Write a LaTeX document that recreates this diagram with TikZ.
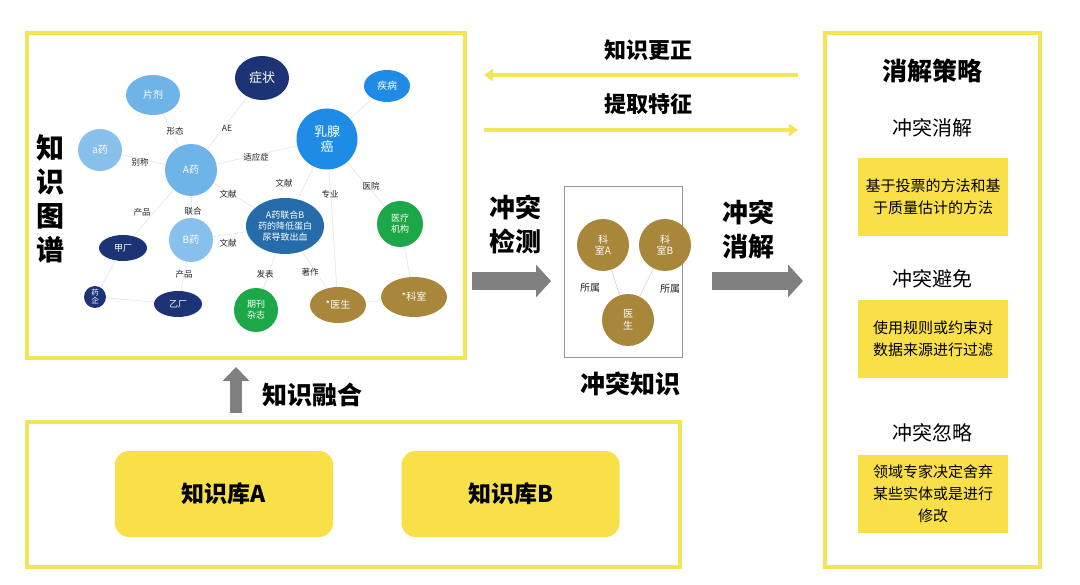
\documentclass[tikz,border=0pt]{standalone}
\usepackage{fontspec}
\setmainfont{Noto Sans CJK SC}
\usetikzlibrary{arrows.meta,shapes.geometric}
\definecolor{ybord}{RGB}{245,228,85}
\definecolor{yfill}{RGB}{249,223,72}
\definecolor{lblue}{RGB}{110,180,232}
\definecolor{llblue}{RGB}{135,192,235}
\definecolor{navy}{RGB}{28,52,118}
\definecolor{bblue}{RGB}{30,140,230}
\definecolor{steel}{RGB}{38,108,170}
\definecolor{ggreen}{RGB}{28,168,72}
\definecolor{gold}{RGB}{168,135,58}
\definecolor{garrow}{RGB}{128,128,128}
\definecolor{boxgray}{RGB}{150,150,150}
\begin{document}
\begin{tikzpicture}[x=1pt,y=-1pt,
  panel/.style={draw=ybord,line width=4pt},
  kn/.style={ellipse,inner sep=0pt,text=white,align=center,font=\fontsize{10}{11.5}\selectfont},
  el/.style={inner sep=0pt,text=black!85,font=\fontsize{8.5}{9}\selectfont},
  kedge/.style={draw=black!9,line width=0.7pt},
  big/.style={inner sep=0pt,align=center,font=\fontsize{25}{34}\bfseries\selectfont},
  mid/.style={inner sep=0pt,align=center,font=\fontsize{20}{24}\selectfont},
  ybox/.style={fill=yfill,minimum width=150pt,minimum height=78pt,align=center,inner sep=0pt,font=\fontsize{15}{22}\selectfont},
  kbox/.style={fill=yfill,rounded corners=14pt,minimum width=218pt,minimum height=86pt,inner sep=0pt,font=\fontsize{23}{26}\bfseries\selectfont},
  yarrow/.style={draw=ybord,line width=4pt,-{Triangle[length=9pt,width=12pt]}},
  garr/.style={draw=garrow,line width=18pt,-{Triangle[length=15pt,width=32pt]}},
]
\useasboundingbox (0,0) rectangle (1080,585);
\fill[white] (0,0) rectangle (1080,585);

% ---------- panels ----------
\node[panel,minimum width=438pt,minimum height=325pt,inner sep=0pt] (kg) at (246,195.5) {};
\node[panel,minimum width=653pt,minimum height=145pt,inner sep=0pt] (kbpanel) at (353.5,494.5) {};
\node[panel,minimum width=215pt,minimum height=534pt,inner sep=0pt] (strat) at (932.5,300) {};

% ---------- knowledge graph ----------
\node[big,font=\fontsize{28}{34}\bfseries\selectfont] (kgtitle) at (50,199) {知\\识\\图\\谱};

\node[kn,fill=lblue,minimum width=54pt,minimum height=40pt] (pj) at (153,95) {片剂};
\node[kn,fill=navy,minimum width=54pt,minimum height=44pt,font=\fontsize{13}{14}\selectfont] (zz) at (262,78) {症状};
\node[kn,fill=bblue,minimum width=46pt,minimum height=32pt] (jb) at (387,86) {疾病};
\node[kn,fill=llblue,minimum width=44pt,minimum height=42pt] (ay) at (100,150) {a药};
\node[kn,fill=lblue,minimum width=52pt,minimum height=52pt] (Ay) at (191,170) {A药};
\node[kn,fill=bblue,minimum width=61pt,minimum height=61pt,font=\fontsize{13}{15}\selectfont] (rxa) at (327,139) {乳腺\\癌};
\node[kn,fill=llblue,minimum width=44pt,minimum height=44pt] (By) at (191,240) {B药};
\node[kn,fill=steel,minimum width=78pt,minimum height=56pt,font=\fontsize{9}{11}\selectfont] (combo) at (285,226) {A药联合B\\药的降低蛋白\\尿导致出血};
\node[kn,fill=ggreen,minimum width=46pt,minimum height=46pt,font=\fontsize{9}{11}\selectfont] (yl) at (400,224) {医疗\\机构};
\node[kn,fill=navy,minimum width=48pt,minimum height=26pt,font=\fontsize{9}{10}\selectfont] (jc) at (123,248) {甲厂};
\node[kn,fill=navy,minimum width=22pt,minimum height=22pt,font=\fontsize{7.5}{8}\selectfont] (yq) at (95,297) {药\\企};
\node[kn,fill=navy,minimum width=48pt,minimum height=26pt,font=\fontsize{9}{10}\selectfont] (yc) at (178,304) {乙厂};
\node[kn,fill=ggreen,minimum width=44pt,minimum height=44pt,font=\fontsize{9}{11}\selectfont] (qk) at (256,310) {期刊\\杂志};
\node[kn,fill=gold,minimum width=56pt,minimum height=36pt] (ys) at (338,305) {*医生};
\node[kn,fill=gold,minimum width=66pt,minimum height=40pt] (ks) at (414,297) {*科室};

\draw[kedge] (pj) -- (Ay);
\draw[kedge] (zz) -- (Ay);
\draw[kedge] (ay) -- (Ay);
\draw[kedge] (Ay) -- (rxa);
\draw[kedge] (Ay) -- (combo);
\draw[kedge] (rxa) -- (jb);
\draw[kedge] (rxa) -- (combo);
\draw[kedge] (rxa) -- (ys);
\draw[kedge] (rxa) -- (yl);
\draw[kedge] (Ay) -- (By);
\draw[kedge] (By) -- (combo);
\draw[kedge] (jc) -- (Ay);
\draw[kedge] (yc) -- (By);
\draw[kedge] (yq) -- (jc);
\draw[kedge] (yq) -- (yc);
\draw[kedge] (combo) -- (qk);
\draw[kedge] (combo) -- (ys);
\draw[kedge] (ys) -- (ks);
\draw[kedge] (yl) -- (ks);

\node[el] (l1) at (175,131) {形态};
\node[el] (l2) at (227,128) {AE};
\node[el] (l3) at (140,162) {别称};
\node[el] (l4) at (256,157) {适应症};
\node[el] (l5) at (228,194) {文献};
\node[el] (l6) at (284,183) {文献};
\node[el] (l7) at (330,194) {专业};
\node[el] (l8) at (371,186) {医院};
\node[el] (l9) at (142,212) {产品};
\node[el] (l10) at (193,211) {联合};
\node[el] (l11) at (228,243) {文献};
\node[el] (l12) at (184,274) {产品};
\node[el] (l13) at (265,274) {发表};
\node[el] (l14) at (310,272) {著作};

% ---------- top arrows ----------
\node[big,font=\fontsize{22}{26}\bfseries\selectfont] (kc) at (648,50) {知识更正};
\node[big,font=\fontsize{22}{26}\bfseries\selectfont] (tq) at (648,104) {提取特征};
\coordinate (a1s) at (798,75);
\coordinate (a1e) at (484,75);
\coordinate (a2s) at (484,130);
\coordinate (a2e) at (798,130);
\draw[yarrow] (a1s) -- (a1e);
\draw[yarrow] (a2s) -- (a2e);

% ---------- conflict detection ----------
\node[big,font=\fontsize{26}{34}\bfseries\selectfont] (jc1) at (515,225) {冲突\\检测};
\node[draw=boxgray,line width=0.8pt,minimum width=118pt,minimum height=171pt,inner sep=0pt] (conf) at (623,271.5) {};
\coordinate (g1s) at (472,281);
\coordinate (g1e) at (551,281);
\draw[garr] (g1s) -- (g1e);

\node[kn,fill=gold,minimum width=52pt,minimum height=52pt] (ksA) at (603,245) {科\\室A};
\node[kn,fill=gold,minimum width=52pt,minimum height=52pt] (ksB) at (665,245) {科\\室B};
\node[kn,fill=gold,minimum width=52pt,minimum height=52pt] (doc) at (628,320) {医\\生};
\draw[kedge,draw=black!15] (ksA) -- (doc);
\draw[kedge,draw=black!15] (ksB) -- (doc);
\node[el,font=\fontsize{10}{11}\selectfont] (s1) at (590,288) {所属};
\node[el,font=\fontsize{10}{11}\selectfont] (s2) at (670,289) {所属};
\node[big] (ctzs) at (630,384) {冲突知识};

% ---------- conflict resolution ----------
\node[big,font=\fontsize{26}{34}\bfseries\selectfont] (xj) at (748,230) {冲突\\消解};
\coordinate (g2s) at (712,281);
\coordinate (g2e) at (803,281);
\draw[garr] (g2s) -- (g2e);

% ---------- strategies ----------
\node[big] (xjcl) at (932,71) {消解策略};
\node[mid] (h1) at (932,128) {冲突消解};
\node[ybox] (b1) at (933,197) {基于投票的方法和基\\于质量估计的方法};
\node[mid] (h2) at (932,279) {冲突避免};
\node[ybox] (b2) at (933,339) {使用规则或约束对\\数据来源进行过滤};
\node[mid] (h3) at (932,433) {冲突忽略};
\node[ybox] (b3) at (933,494) {领域专家决定舍弃\\某些实体或是进行\\修改};

% ---------- fusion ----------
\coordinate (upS) at (236,413);
\coordinate (upE) at (236,367);
\draw[draw=garrow,line width=12pt,-{Triangle[length=14pt,width=26pt]}] (upS) -- (upE);
\node[big] (rh) at (312,395) {知识融合};
\node[kbox] (kbA) at (224,494) {知识库A};
\node[kbox] (kbB) at (510.5,494) {知识库B};
\end{tikzpicture}
\end{document}
